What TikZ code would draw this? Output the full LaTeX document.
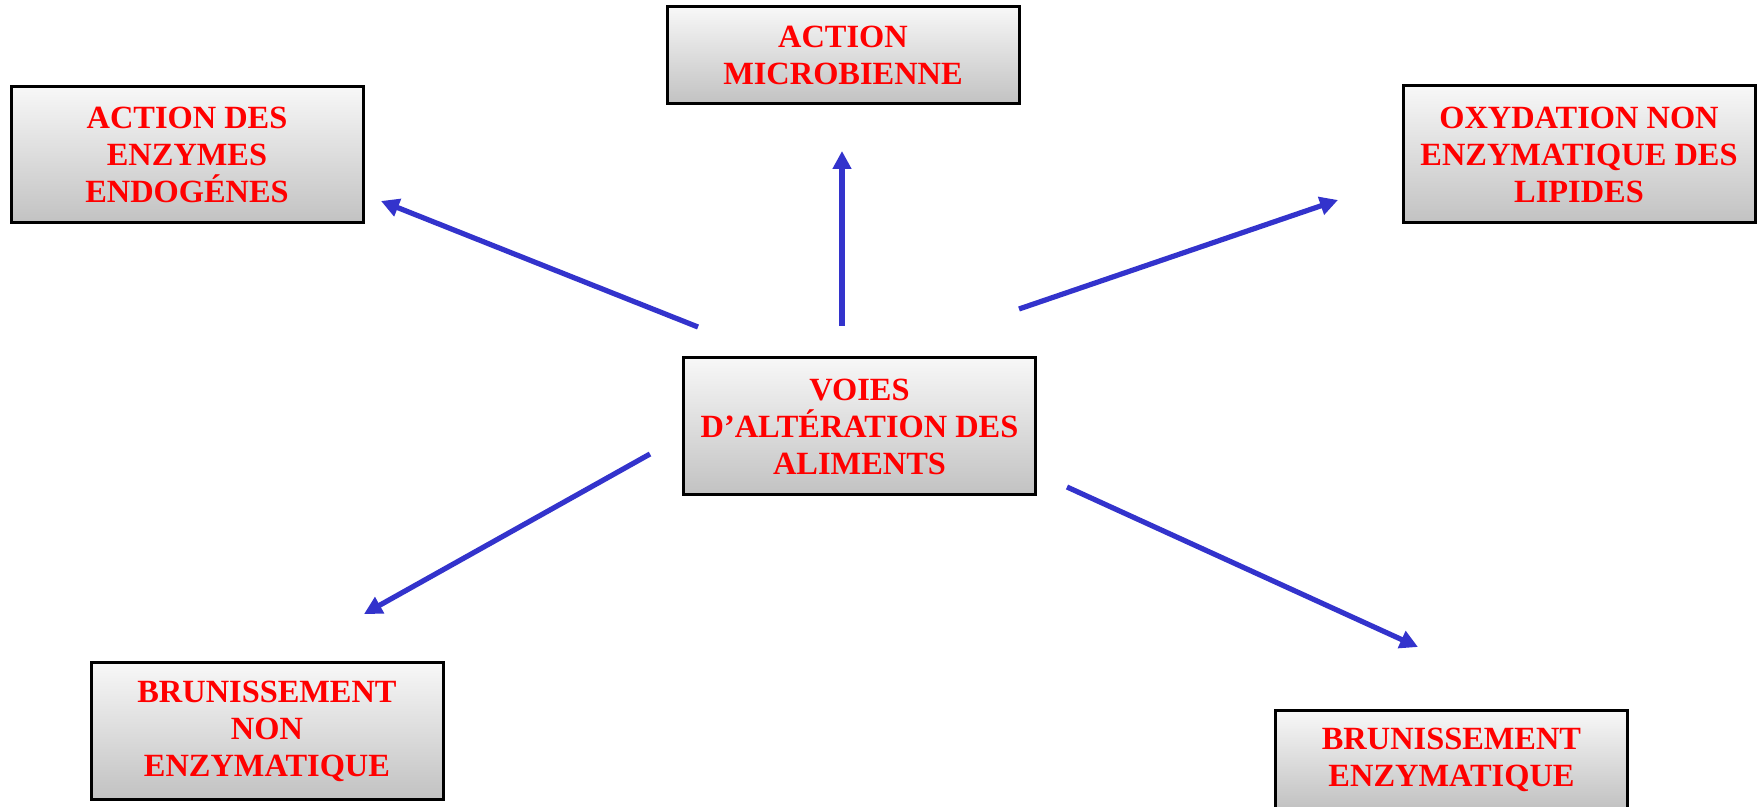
\documentclass[tikz,border=0pt]{standalone}
\usepackage{fontspec}
\setmainfont{Liberation Serif}
\usepackage{xcolor}
\usepackage{tikz}
\usetikzlibrary{arrows.meta}
\definecolor{wayblue}{RGB}{51,51,204}
\definecolor{wayred}{RGB}{255,0,0}
\tikzset{
way box/.style = { rectangle, draw = black, line width = 1.5pt, top color = black!3, bottom color = black!24, text = wayred, align = center, font = \fontsize{16.2}{18.5}\selectfont\bfseries, minimum width = 176pt, inner sep = 0pt },
way arrow/.style = { draw = wayblue, line width = 2.6pt, -{Triangle[length = 9pt, width = 9pt]} },
}

\begin{document}
\begin{tikzpicture}[x = 0.5pt, y = -0.5pt]
    \clip (0, 0) rectangle (1758, 807);
    \fill[white] (0, 0) rectangle (1758, 807);
    % boxes
    \node[way box, minimum height = 48.5pt] (micro) at (843, 55.5) {ACTION\\MICROBIENNE};
    \node[way box, minimum height = 68pt] (enzendo) at (187, 155) {ACTION DES\\ENZYMES\\ENDOG\'ENES};
    \node[way box, minimum height = 68.5pt] (oxy) at (1579, 154.5) {OXYDATION NON\\ENZYMATIQUE DES\\LIPIDES};
    \node[way box, minimum height = 68.5pt] (voies) at (859.5, 426.5) {VOIES\\D'ALT\'ERATION DES\\ALIMENTS};
    \node[way box, minimum height = 68pt] (brunnon) at (267, 731) {BRUNISSEMENT\\NON\\ENZYMATIQUE};
    \node[way box, minimum height = 48.5pt] (brunenz) at (1451.5, 759.5) {BRUNISSEMENT\\ENZYMATIQUE};
    % arrow ends
    \coordinate (s1) at (698, 327);
    \coordinate (e1) at (381, 201);
    \coordinate (s2) at (842, 326);
    \coordinate (e2) at (842, 151);
    \coordinate (s3) at (1019, 309);
    \coordinate (e3) at (1338, 200);
    \coordinate (s4) at (650, 454);
    \coordinate (e4) at (364, 614);
    \coordinate (s5) at (1067, 487);
    \coordinate (e5) at (1418, 647);
    \draw[way arrow] (s1) -- (e1);
    \draw[way arrow] (s2) -- (e2);
    \draw[way arrow] (s3) -- (e3);
    \draw[way arrow] (s4) -- (e4);
    \draw[way arrow] (s5) -- (e5);
\end{tikzpicture}
\end{document}
